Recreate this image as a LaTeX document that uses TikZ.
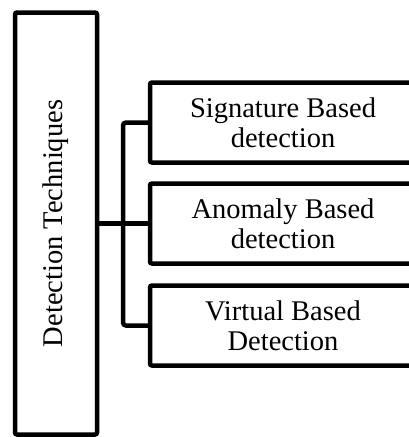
\documentclass[tikz,border=0pt]{standalone}
\usepackage{fontspec}
\setmainfont{Liberation Serif}
\usetikzlibrary{positioning}

\begin{document}
\begin{tikzpicture}[
        x = 1pt,
        y = -1pt,
        box/.style = {
            draw,
            line width = 4.5pt,
            rounded corners = 2pt,
            align = center,
            inner sep = 0pt,
            font = \fontsize{28.5}{30}\selectfont
        },
        leaf/.style = {
            box,
            minimum width = 266pt,
            minimum height = 80pt
        },
        link/.style = {
            line width = 4.5pt,
            rounded corners = 3pt
        }
    ]
    \useasboundingbox (0,0) rectangle (409,437);
    \clip (0,0) rectangle (409,437);
    \node[box, rotate=90, minimum width=422pt, minimum height=82pt] (tech) at (56,223.5) {Detection Techniques};
    \node[leaf] (sig) at (283,122.5) {Signature Based\\detection};
    \node[leaf] (ano) at (283,223.5) {Anomaly Based\\detection};
    \node[leaf] (vir) at (283,325.5) {Virtual Based\\Detection};
    \coordinate (bus) at (123,223.5);

    \draw[link] (sig.west) -| (bus) |- (vir.west);
    \draw[link] (tech.south) -- (ano.west);
\end{tikzpicture}
\end{document}
